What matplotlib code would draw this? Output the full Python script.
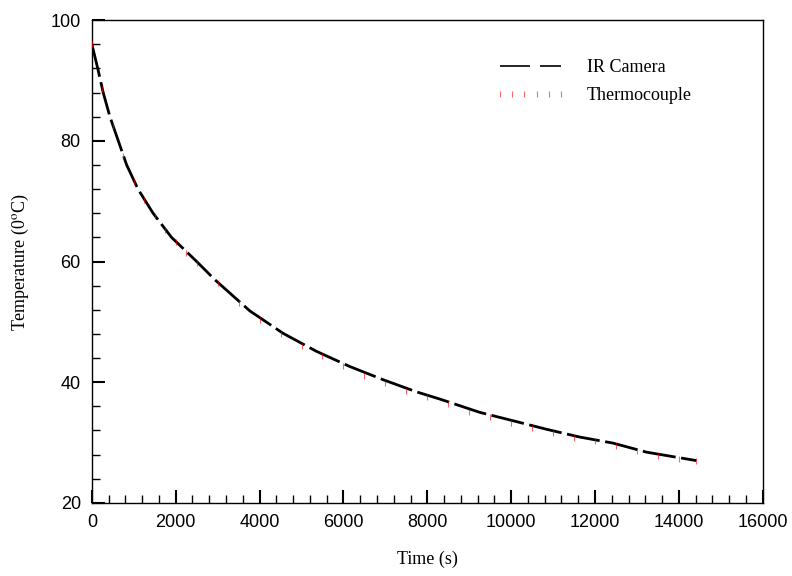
import matplotlib
matplotlib.use('Agg')
import matplotlib.pyplot as plt
from matplotlib.ticker import MultipleLocator

# IR camera reading
ir_time = [0, 140, 270, 430, 630, 830, 1100, 1460, 1900, 2500, 2930, 3770, 4560,
           5360, 6150, 6950, 7740, 8300, 9250, 10050, 10840, 11640, 12430, 13230, 14420]
ir_temp = [96, 92, 88, 84, 80, 76, 72, 68, 64, 60, 57.0, 51.8, 48.1,
           45.1, 42.6, 40.4, 38.4, 37.2, 35.0, 33.6, 32.2, 30.9, 29.9, 28.4, 27.0]

# thermocouple reading
tc_time = [0, 250, 500, 750, 1000, 1250, 1500, 1750, 2000, 2250, 2500, 3000, 3500,
           4000, 4500, 5000, 5500, 6000, 6500, 7000, 7500, 8000, 8500, 9000, 9500,
           10000, 10500, 11000, 11500, 12000, 12500, 13000, 13500, 14000, 14400]
tc_temp = [96, 88.6, 82.5, 77.5, 73.4, 70.2, 67.6, 65.2, 63.3, 61.4, 59.7, 56.4, 53.2,
           50.3, 48.0, 46.0, 44.3, 42.6, 41.1, 39.8, 38.6, 37.5, 36.4, 35.1, 34.2,
           33.3, 32.4, 31.6, 30.8, 30.2, 29.5, 28.6, 27.8, 27.3, 26.9]

plt.rcParams['mathtext.fontset'] = 'stix'

fig = plt.figure(figsize=(7.92, 5.76), dpi=100)
ax = fig.add_axes([0.116, 0.127, 0.847, 0.838])

ax.plot(tc_time, tc_temp, color='red', ls='none', marker='|', ms=4, mew=0.8,
        alpha=0.6, label='Thermocouple', zorder=3)
ax.plot(ir_time, ir_temp, color='black', lw=2.0, dashes=(12, 2), label='IR Camera',
        zorder=2)

ax.set_xlim(0, 16000)
ax.set_ylim(20, 100)
ax.xaxis.set_major_locator(MultipleLocator(2000))
ax.xaxis.set_minor_locator(MultipleLocator(400))
ax.yaxis.set_major_locator(MultipleLocator(20))
ax.yaxis.set_minor_locator(MultipleLocator(4))
ax.tick_params(which='both', direction='in', top=False, right=False)
ax.tick_params(which='major', length=9.5, width=1.5, labelsize=13, pad=8)
ax.tick_params(which='minor', length=6, width=1.0)
for lab in ax.get_xticklabels() + ax.get_yticklabels():
    lab.set_family('Liberation Sans')
for s in ax.spines.values():
    s.set_linewidth(1.0)

ax.set_xlabel('Time (s)', family='Liberation Serif', fontsize=13, labelpad=14)
ax.set_ylabel('Temperature (0$^{\\rm o}$C)', family='Liberation Serif', fontsize=13, labelpad=14)

handles, labels = ax.get_legend_handles_labels()
leg = ax.legend(handles[::-1], labels[::-1], loc='upper left',
                bbox_to_anchor=(0.576, 0.953), frameon=False,
                prop={'family': 'Liberation Serif', 'size': 13}, handlelength=4.0,
                numpoints=6, handletextpad=1.12, labelspacing=0.62)
leg.get_lines()[0].set_linewidth(1.2)
leg.get_lines()[0].set_dashes((18, 6))

fig.savefig('out.png', dpi=100)
